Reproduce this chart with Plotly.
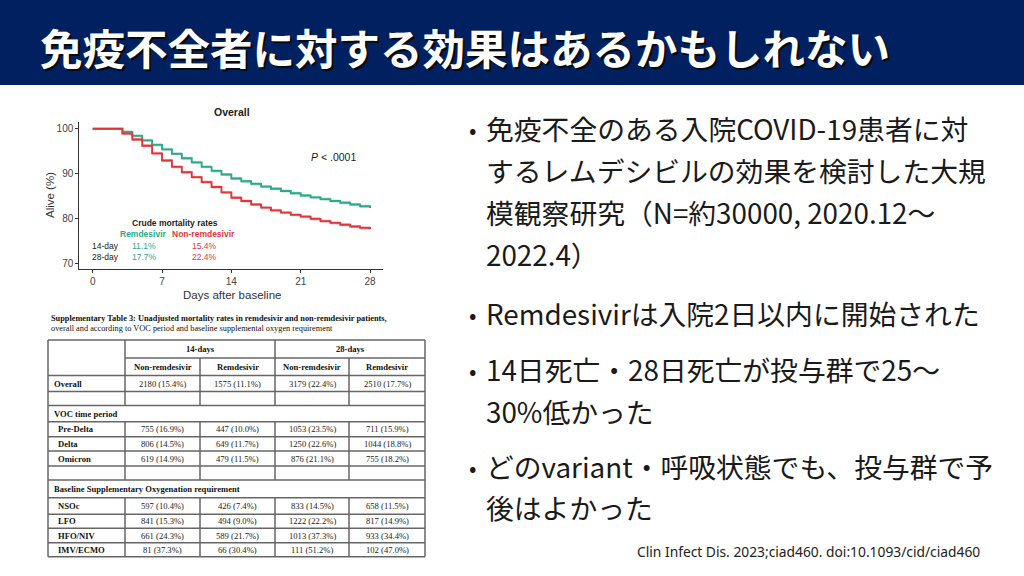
import plotly.graph_objects as go

W, H = 1024, 576

# ---------------- data ----------------
days = list(range(0, 29))
remdesivir_alive = [100, 100, 100, 99.3, 98.4, 97.4, 96.4, 95.4, 94.4, 93.4, 92.5, 91.5, 90.6, 89.8,
                    88.9, 88.3, 87.7, 87.1, 86.6, 86.1, 85.6, 85.1, 84.7, 84.3, 83.9, 83.5, 83.1, 82.7, 82.3]
nonrem_alive = [100, 100, 100, 98.9, 97.6, 96.2, 94.5, 92.9, 91.5, 90.3, 89.2, 88.1, 87.0, 85.8,
                84.6, 83.9, 83.1, 82.4, 81.8, 81.3, 80.8, 80.4, 79.9, 79.4, 79.0, 78.6, 78.2, 77.9, 77.6]
x_ticks = [0, 7, 14, 21, 28]
y_ticks = [70, 80, 90, 100]

crude_labels = ["14-day", "28-day"]
crude_rem = ["11.1%", "17.7%"]
crude_non = ["15.4%", "22.4%"]

table_caption = ["Supplementary Table 3: Unadjusted mortality rates in remdesivir and non-remdesivir patients,",
                 "overall and according to VOC period and baseline supplemental oxygen requirement"]
period_headers = ["14-days", "28-days"]
group_headers = ["Non-remdesivir", "Remdesivir", "Non-remdesivir", "Remdesivir"]
row_labels = ["Overall", "", "VOC time period", "Pre-Delta", "Delta", "Omicron", "",
              "Baseline Supplementary Oxygenation requirement", "NSOc", "LFO", "HFO/NIV", "IMV/ECMO"]
row_kind = ["data", "blank", "section", "sub", "sub", "sub", "blank", "section", "sub", "sub", "sub", "sub"]
counts = {
    "Overall":   [2180, 1575, 3179, 2510],
    "Pre-Delta": [755, 447, 1053, 711],
    "Delta":     [806, 649, 1250, 1044],
    "Omicron":   [619, 479, 876, 755],
    "NSOc":      [597, 426, 833, 658],
    "LFO":       [841, 494, 1222, 817],
    "HFO/NIV":   [661, 589, 1013, 933],
    "IMV/ECMO":  [81, 66, 111, 102],
}
percents = {
    "Overall":   [15.4, 11.1, 22.4, 17.7],
    "Pre-Delta": [16.9, 10.0, 23.5, 15.9],
    "Delta":     [14.5, 11.7, 22.6, 18.8],
    "Omicron":   [14.9, 11.5, 21.1, 18.2],
    "NSOc":      [10.4, 7.4, 14.5, 11.5],
    "LFO":       [15.3, 9.0, 22.2, 14.9],
    "HFO/NIV":   [24.3, 21.7, 37.3, 34.4],
    "IMV/ECMO":  [37.3, 30.4, 51.2, 47.0],
}

title_text = "免疫不全者に対する効果はあるかもしれない"
bullets = [
    ["免疫不全のある入院COVID-19患者に対", "するレムデシビルの効果を検討した大規", "模観察研究（N=約30000, 2020.12～", "2022.4）"],
    ["Remdesivirは入院2日以内に開始された"],
    ["14日死亡・28日死亡が投与群で25～", "30%低かった"],
    ["どのvariant・呼吸状態でも、投与群で予", "後はよかった"],
]
citation = "Clin Infect Dis. 2023;ciad460. doi:10.1093/cid/ciad460"

# ---------------- style ----------------
TEAL = "#2aa98b"
TEAL_BAND = "rgba(42,169,139,0.35)"
RED = "#e0363b"
RED_BAND = "rgba(224,54,59,0.35)"
NAVY = "#002060"
SANS = "Liberation Sans, Arial, sans-serif"
SERIF = "Liberation Serif, Times New Roman, serif"
JP = "Noto Sans CJK JP, sans-serif"
GRID = "#666666"


def px(x):
    return x / W


def py(y):
    return 1 - y / H


def text(t, x, y, size, color="#111", family=SANS, xanchor="center", ref="paper", **kw):
    if ref == "paper":
        x, y = px(x), py(y)
    d = dict(text=t, xref=ref if ref == "paper" else "x", yref=ref if ref == "paper" else "y",
             x=x, y=y, xanchor=xanchor, yanchor="middle", showarrow=False,
             font=dict(family=family, size=size, color=color))
    d.update(kw)
    return d


fig = go.Figure()

# KM curves with confidence bands
band = 0.34
for vals, col, bcol, name in [(remdesivir_alive, TEAL, TEAL_BAND, "Remdesivir"),
                              (nonrem_alive, RED, RED_BAND, "Non-remdesivir")]:
    lo = [v - band if v < 100 else v for v in vals]
    hi = [v + band if v < 100 else v for v in vals]
    fig.add_trace(go.Scatter(x=days, y=lo, mode="lines", line=dict(width=0, shape="hv"),
                             showlegend=False, hoverinfo="skip"))
    fig.add_trace(go.Scatter(x=days, y=hi, mode="lines", line=dict(width=0, shape="hv"),
                             fill="tonexty", fillcolor=bcol, showlegend=False, hoverinfo="skip"))
    fig.add_trace(go.Scatter(x=days, y=vals, mode="lines", name=name,
                             line=dict(color=col, width=1.9, shape="hv"), showlegend=False))

fig.update_xaxes(domain=[px(79.3), px(383.3)], range=[-1.35, 29.34], tickvals=x_ticks,
                 showline=True, linecolor="#333", linewidth=1, ticks="outside", ticklen=3,
                 tickcolor="#333", tickfont=dict(family=SANS, size=10, color="#444"),
                 showgrid=False, zeroline=False, fixedrange=True)
fig.update_yaxes(domain=[py(269.3), py(122.3)], range=[68.66, 101.43], tickvals=y_ticks,
                 showline=True, linecolor="#333", linewidth=1, ticks="outside", ticklen=3,
                 tickcolor="#333", tickfont=dict(family=SANS, size=10, color="#444"),
                 showgrid=False, zeroline=False, fixedrange=True)

shapes = []
ann = []

# banner
shapes.append(dict(type="rect", xref="paper", yref="paper", x0=0, x1=1, y0=py(85), y1=1,
                   fillcolor=NAVY, line=dict(width=0), layer="below"))
ann.append(text("<b>" + title_text + "</b>", 40, 48, 42.5, "#0a0a0a", JP, "left"))
ann.append(text("<b>" + title_text + "</b>", 38, 46, 42.5, "white", JP, "left"))

# chart texts
ann.append(text("<b>Overall</b>", 232, 112, 10.5, "#222"))
ann.append(text("Alive (%)", 50, 195, 11.5, "#333", textangle=-90))
ann.append(text("Days after baseline", 232, 295, 11.5, "#333"))
ann.append(text("<i>P</i> < .0001", 21.8, 93.7, 10.5, "#222", SANS, "left", ref="data"))
ann.append(text("<b>Crude mortality rates</b>", 8.3, 79.0, 8.5, "#222", ref="data"))
ann.append(text("<b>Remdesivir</b>", 5.1, 76.5, 8.5, TEAL, ref="data"))
ann.append(text("<b>Non-remdesivir</b>", 11.2, 76.5, 8.5, RED, ref="data"))
for i, (lab, r, n) in enumerate(zip(crude_labels, crude_rem, crude_non)):
    yy = 73.9 - i * 2.5
    ann.append(text(lab, 1.3, yy, 8.5, "#222", ref="data"))
    ann.append(text(r, 5.2, yy, 8.5, TEAL, ref="data"))
    ann.append(text(n, 11.3, yy, 8.5, RED, ref="data"))

# table caption
ann.append(text("<b>" + table_caption[0] + "</b>", 49, 318, 8.3, "#111", SERIF, "left"))
ann.append(text(table_caption[1], 49, 328, 8.3, "#111", SERIF, "left"))

# table geometry (layout)
cols = [48, 125, 200, 275, 349, 425]
top, hdr_mid, hdr_bot = 340, 358, 375.5
row_edges = [375.5, 391.5, 405.5, 421.7, 436.7, 451, 466, 480, 497.7, 514.3, 528.3, 542.7, 556.7]


def hline(x0, x1, y):
    shapes.append(dict(type="line", xref="paper", yref="paper", x0=px(x0), x1=px(x1), y0=py(y), y1=py(y),
                       line=dict(color=GRID, width=1.5)))


def vline(x, y0, y1):
    shapes.append(dict(type="line", xref="paper", yref="paper", x0=px(x), x1=px(x), y0=py(y0), y1=py(y1),
                       line=dict(color=GRID, width=1.5)))


hline(cols[0], cols[-1], top)
hline(cols[1], cols[-1], hdr_mid)
hline(cols[0], cols[-1], hdr_bot)
vline(cols[0], top, row_edges[-1])
vline(cols[-1], top, row_edges[-1])
vline(cols[1], top, hdr_bot)
vline(cols[3], top, hdr_bot)
vline(cols[2], hdr_mid, hdr_bot)
vline(cols[4], hdr_mid, hdr_bot)

for j, p in enumerate(period_headers):
    ann.append(text("<b>" + p + "</b>", (cols[1 + 2 * j] + cols[3 + 2 * j]) / 2, (top + hdr_mid) / 2,
                    8.6, "#111", SERIF))
for j, g in enumerate(group_headers):
    ann.append(text("<b>" + g + "</b>", (cols[1 + j] + cols[2 + j]) / 2, (hdr_mid + hdr_bot) / 2,
                    8.6, "#111", SERIF))

for i, (lab, kind) in enumerate(zip(row_labels, row_kind)):
    y0, y1 = row_edges[i], row_edges[i + 1]
    hline(cols[0], cols[-1], y1)
    if kind != "section":
        for c in cols[1:-1]:
            vline(c, y0, y1)
    yc = (y0 + y1) / 2
    if lab:
        xoff = 56 if kind == "sub" else 52
        ann.append(text("<b>" + lab + "</b>", xoff, yc, 8.6, "#111", SERIF, "left"))
    if lab in counts:
        for j in range(4):
            ann.append(text(f"{counts[lab][j]} ({percents[lab][j]:.1f}%)",
                            (cols[1 + j] + cols[2 + j]) / 2, yc, 8.6, "#222", SERIF))

# right-hand bullet text
bullet_lines_y = [[128, 170, 212, 254], [313], [369, 411], [466, 507]]
for lines, ys in zip(bullets, bullet_lines_y):
    ann.append(text("•", 472, ys[0], 22, "#1a1a1a", JP))
    for t, yy in zip(lines, ys):
        ann.append(text(t, 484, yy, 27.8, "#1a1a1a", JP, "left"))

ann.append(text(citation, 982, 551, 13.8, "#222", "Noto Sans, sans-serif", "right"))

fig.update_layout(width=W, height=H, margin=dict(l=0, r=0, t=0, b=0),
                  paper_bgcolor="white", plot_bgcolor="white",
                  shapes=shapes, annotations=ann, showlegend=False)

fig.write_html("out.html", config={"displayModeBar": False},
               post_script="document.body.style.margin='0';document.body.style.overflow='hidden';")
